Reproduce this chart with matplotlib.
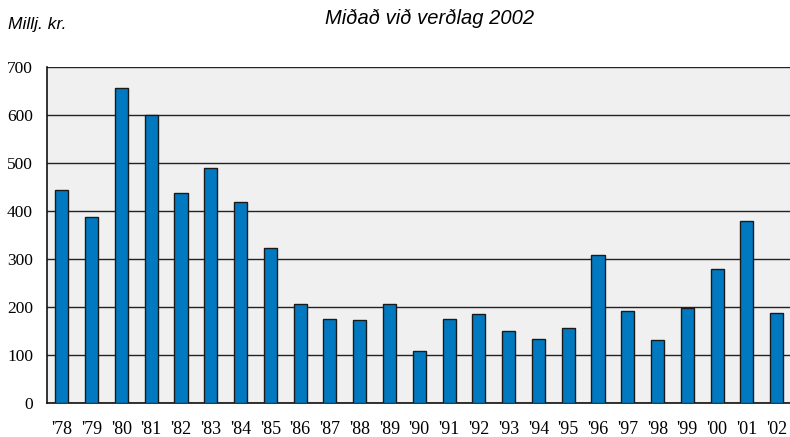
import numpy as np
import matplotlib.pyplot as plt

years = ["'78", "'79", "'80", "'81", "'82", "'83", "'84", "'85", "'86", "'87",
         "'88", "'89", "'90", "'91", "'92", "'93", "'94", "'95", "'96", "'97",
         "'98", "'99", "'00", "'01", "'02"]
values = [443, 388, 655, 600, 437, 490, 418, 322, 205, 175,
          173, 205, 109, 175, 185, 150, 134, 156, 308, 191,
          131, 197, 279, 378, 187]
yticks = [0, 100, 200, 300, 400, 500, 600, 700]

fig = plt.figure(figsize=(7.9, 4.37), dpi=100)
ax = fig.add_axes([0.0595, 0.078, 0.9425, 0.769])
ax.set_facecolor('#f0f0f0')

x = np.arange(len(years))
ax.bar(x, values, width=0.44, color='#0079c1', edgecolor='#1a1a1a', linewidth=1.0, zorder=3)

ax.set_xlim(-0.5, len(years) - 0.5)
ax.set_ylim(0, 700)
ax.set_yticks(yticks)
ax.set_xticks(x)
ax.set_xticklabels(years)
ax.yaxis.grid(True, color='#222222', linewidth=1.0, zorder=1)
ax.set_axisbelow(True)
ax.tick_params(length=0)
ax.tick_params(axis='y', pad=10)
ax.tick_params(axis='x', pad=13)
for lab in ax.get_yticklabels():
    lab.set_fontfamily('Liberation Serif')
    lab.set_fontsize(12.5)
for lab in ax.get_xticklabels():
    lab.set_fontfamily('Liberation Serif')
    lab.set_fontsize(13)

for side in ['top', 'right']:
    ax.spines[side].set_visible(False)
for side in ['left', 'bottom']:
    ax.spines[side].set_color('#111111')
    ax.spines[side].set_linewidth(1.2)

fig.text(0.544, 0.958, 'Miðað við verðlag 2002', ha='center', va='center',
         fontfamily='Liberation Sans', fontstyle='italic', fontsize=14.5)
fig.text(0.01, 0.945, 'Millj. kr.', ha='left', va='center',
         fontfamily='Liberation Sans', fontstyle='italic', fontsize=12.5)

fig.savefig('out.png', dpi=100)
